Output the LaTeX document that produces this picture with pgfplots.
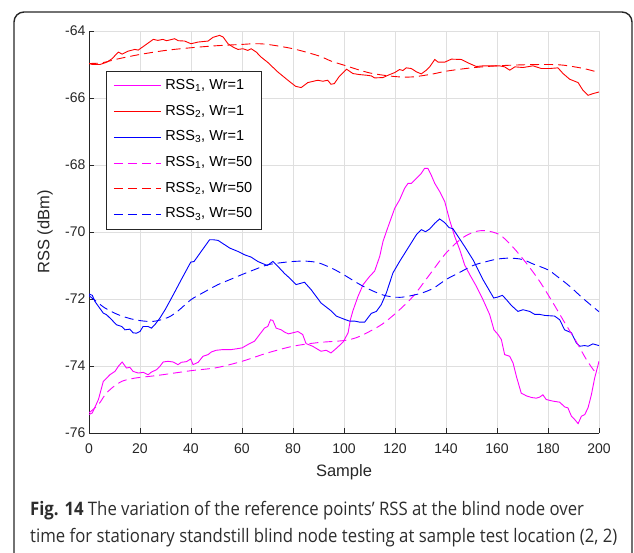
\documentclass[border=0pt]{standalone}
\usepackage{fontspec}
\setmainfont{Liberation Sans}
\newfontfamily\capfont[FakeStretch=0.9]{Open Sans}
\usepackage{pgfplots}
\definecolor{axgray}{RGB}{38,38,38}
\definecolor{gridgray}{RGB}{223,223,223}
\definecolor{capgray}{RGB}{45,45,45}
\definecolor{cMag}{RGB}{255,0,255}
\definecolor{cRed}{RGB}{255,0,0}
\definecolor{cBlue}{RGB}{0,0,255}
\pgfplotsset{compat=1.18,
  /pgfplots/legend image code/.code={%
    \draw[#1, draw=.] (0pt,0pt) -- (47pt,0pt);}}
\begin{document}
\begin{tikzpicture}[x=1pt,y=1pt]
\useasboundingbox (0,0) rectangle (634,552);
\draw[line width=1.4pt, rounded corners=10pt, black!85] (14,-30) rectangle (632,540);
\begin{axis}[
  at={(89pt,119pt)}, anchor=south west,
  scale only axis, width=510pt, height=402pt,
  xmin=0, xmax=200, ymin=-76, ymax=-64,
  xtick={0,20,...,200}, ytick={-76,-74,...,-64},
  grid=major, major grid style={gridgray, line width=0.7pt},
  axis x line*=bottom, axis y line*=left,
  axis line style={-, axgray, line width=0.8pt},
  tick align=inside, major tick length=5pt, tick style={axgray, line width=0.8pt},
  ticklabel style={font=\fontsize{14}{16}\selectfont, text=axgray},
  xticklabel style={yshift=-7pt},
  /pgf/number format/assume math mode=true,
  xlabel={Sample}, ylabel={RSS (dBm)},
  label style={font=\fontsize{16.5}{19}\selectfont, text=axgray},
  xlabel style={at={(axis description cs:0.5,-0.097)}, anchor=center},
  ylabel style={at={(axis description cs:-0.0863,0.5)}, anchor=center},
  legend cell align=left,
  legend style={at={(rel axis cs:0.0333,0.9005)}, anchor=north west,
    draw=axgray, line width=0.8pt, fill=white,
    font=\fontsize{14.5}{16}\selectfont, text=black,
    inner xsep=7pt, inner ysep=5pt, row sep=6.7pt,
    /tikz/every odd column/.append style={column sep=2pt},
    nodes={inner sep=2pt, text height=11pt, text depth=4pt}},
  every axis plot/.append style={line width=0.9pt},
]
% RSS1, Wr=1
\addplot[color=cMag] coordinates {(0,-75.45)(1.3,-75.4)(3.7,-75.0)(4.9,-74.66)(5.6,-74.46)(6.9,-74.36)(8.2,-74.26)(10.2,-74.16)(11.5,-74.01)(13,-73.88)(14.7,-74.06)(16,-74.04)(17.3,-74.16)(19.3,-74.21)(21.3,-74.19)(23.2,-74.26)(24.5,-74.18)(26.5,-74.11)(27.8,-74.01)(29.1,-73.88)(31,-73.86)(33,-73.88)(34.9,-73.96)(36.2,-73.89)(38.2,-73.87)(39.9,-73.79)(40.8,-73.96)(42.8,-73.89)(44.7,-73.71)(46.7,-73.66)(48,-73.58)(49.9,-73.53)(52.5,-73.51)(55.8,-73.51)(58.4,-73.48)(60,-73.46)(62.3,-73.36)(64.9,-73.26)(66.9,-73.06)(68.8,-72.87)(70.1,-72.82)(71.2,-72.62)(72.1,-72.64)(73.4,-72.87)(75.4,-72.92)(76.7,-72.99)(78.2,-73.04)(79.9,-73.01)(81.9,-72.97)(83.8,-73.06)(85.1,-73.33)(87.7,-73.41)(91,-73.56)(93,-73.53)(94.9,-73.61)(97.2,-73.46)(99.7,-73.28)(101.6,-73.01)(102.5,-72.62)(103.5,-72.35)(105.5,-71.92)(107.5,-71.57)(110.1,-71.32)(112,-71.17)(114,-70.73)(115.3,-70.28)(117.3,-69.84)(119.9,-69.29)(121.8,-69.04)(123.8,-68.69)(125.1,-68.55)(126.4,-68.55)(128.4,-68.4)(130.3,-68.25)(131.6,-68.1)(132.9,-68.1)(134.2,-68.3)(135.6,-68.55)(137.5,-68.79)(139.5,-69.09)(141.4,-69.64)(143.4,-70.13)(145.4,-70.53)(147.3,-70.98)(149.3,-71.27)(151.9,-71.62)(154.5,-72.02)(157.1,-72.46)(158.8,-72.92)(160.4,-73.06)(161.7,-73.21)(163,-73.66)(165,-73.71)(166.3,-73.91)(167.6,-74.31)(169.5,-74.81)(171.5,-74.89)(173.5,-74.94)(175.4,-74.96)(176.7,-74.93)(178,-74.86)(179.3,-75.0)(182,-75.05)(184.6,-75.08)(186.5,-75.22)(187.8,-75.25)(189.2,-75.5)(190.5,-75.6)(191.8,-75.72)(193.1,-75.5)(194.4,-75.45)(195.7,-75.25)(197,-74.86)(198.3,-74.36)(200,-73.86)};
\addlegendentry{RSS\textsubscript{1}, Wr=1}
% RSS2, Wr=1
\addplot[color=cRed] coordinates {(0,-64.97)(1.3,-65.0)(4.3,-65.0)(7,-64.93)(9,-64.83)(11.5,-64.63)(13,-64.69)(15.4,-64.6)(18,-64.55)(19.3,-64.57)(21.9,-64.43)(25.2,-64.25)(27,-64.28)(29,-64.25)(30.4,-64.29)(33.6,-64.23)(35,-64.29)(37.5,-64.3)(40,-64.38)(42.8,-64.33)(46.7,-64.3)(48.6,-64.19)(51.2,-64.13)(52.6,-64.18)(54.5,-64.38)(56.5,-64.48)(58.4,-64.55)(60.4,-64.53)(62.3,-64.58)(63.6,-64.53)(65.6,-64.63)(67.5,-64.78)(70,-64.93)(74,-65.22)(78,-65.47)(81,-65.65)(83.2,-65.69)(85.8,-65.54)(89.7,-65.47)(91.7,-65.5)(93.6,-65.47)(94.9,-65.59)(96.2,-65.57)(98.2,-65.35)(101,-65.14)(103.5,-65.27)(106,-65.3)(108.8,-65.32)(110.7,-65.34)(112,-65.4)(115.3,-65.39)(117.3,-65.32)(119.9,-65.24)(121.8,-65.15)(123.1,-65.18)(124.4,-65.1)(126.4,-65.12)(128.4,-65.22)(130.3,-65.28)(132.3,-65.17)(133.6,-65.07)(135.6,-64.85)(136.9,-64.93)(139.5,-64.93)(142.1,-64.84)(146,-64.85)(148.6,-64.95)(151.9,-65.06)(154.5,-65.04)(157.1,-65.04)(161,-65.04)(163,-65.07)(165,-65.17)(167,-65.07)(170.2,-65.09)(174.1,-65.04)(177.4,-65.12)(180.7,-65.12)(183.9,-65.1)(185.9,-65.27)(188.5,-65.44)(191.8,-65.54)(193.7,-65.77)(195.7,-65.92)(197.6,-65.87)(200,-65.82)};
\addlegendentry{RSS\textsubscript{2}, Wr=1}
% RSS3, Wr=1
\addplot[color=cBlue] coordinates {(0,-71.85)(1.3,-71.89)(2.3,-72.07)(3.7,-72.22)(5.6,-72.42)(6.9,-72.47)(8.9,-72.62)(10.8,-72.77)(12.8,-72.82)(14.1,-72.92)(16,-72.9)(17.3,-73.01)(18.6,-73.02)(20,-72.97)(21.2,-72.82)(23.2,-72.82)(24.5,-72.87)(25.8,-72.77)(27.8,-72.57)(30,-72.3)(33,-71.88)(36.2,-71.42)(39.9,-70.9)(41.2,-70.88)(44,-70.58)(47.3,-70.23)(48.6,-70.23)(50.6,-70.25)(53.2,-70.38)(55.2,-70.48)(58.4,-70.58)(61,-70.68)(63.6,-70.75)(66.2,-70.88)(69.9,-71.0)(72.1,-70.88)(74,-71.02)(76.7,-71.24)(78.6,-71.37)(81.2,-71.57)(84.5,-71.5)(87.1,-71.72)(91,-72.12)(94.9,-72.35)(97,-72.51)(100.3,-72.61)(102.2,-72.66)(104.2,-72.66)(106.1,-72.69)(108.1,-72.69)(110.7,-72.43)(112.7,-72.37)(114.6,-72.17)(116.6,-71.82)(119.2,-71.22)(121.8,-70.88)(125.1,-70.48)(128.4,-70.08)(130.3,-69.93)(132,-69.99)(133.6,-69.91)(135.6,-69.74)(137.5,-69.61)(139.5,-69.72)(141.2,-69.87)(142.7,-69.9)(144.7,-70.13)(147.3,-70.43)(150.6,-70.83)(154.5,-71.42)(158.7,-71.97)(160.4,-71.94)(162.1,-71.89)(163.7,-72.02)(165.6,-72.19)(168.2,-72.37)(170.2,-72.32)(172.8,-72.37)(174.8,-72.46)(176.7,-72.46)(178.7,-72.49)(182.6,-72.51)(184.6,-72.62)(186.5,-72.92)(189.2,-73.01)(191.1,-73.31)(192.4,-73.41)(194.4,-73.39)(195.7,-73.41)(197.6,-73.34)(200,-73.39)};
\addlegendentry{RSS\textsubscript{3}, Wr=1}
% RSS1, Wr=50
\addplot[color=cMag, dash pattern=on 9pt off 5pt, smooth, tension=0.5] coordinates {(0,-75.4)(3.7,-75.15)(6.3,-74.86)(8.9,-74.66)(12.8,-74.46)(16.7,-74.38)(20,-74.34)(27,-74.28)(40,-74.14)(50,-74.05)(60,-73.86)(70,-73.61)(80,-73.41)(90,-73.3)(100,-73.24)(105,-73.15)(110,-72.97)(115,-72.75)(120.5,-72.41)(127.1,-71.92)(133.6,-71.27)(140,-70.63)(146,-70.2)(151,-70.0)(155.5,-69.96)(161,-70.08)(166,-70.43)(171.5,-70.93)(176.7,-71.47)(182,-72.12)(186.5,-72.7)(191,-73.26)(195,-73.8)(198.3,-74.16)(200,-74.21)};
\addlegendentry{RSS\textsubscript{1}, Wr=50}
% RSS2, Wr=50
\addplot[color=cRed, dash pattern=on 9pt off 5pt, smooth, tension=0.5] coordinates {(0,-64.97)(5,-64.95)(11.5,-64.83)(20,-64.7)(30,-64.58)(40,-64.5)(50,-64.44)(60,-64.4)(65,-64.38)(70,-64.4)(80,-64.53)(90,-64.74)(95,-64.9)(100,-65.02)(110,-65.25)(120,-65.36)(127,-65.37)(135,-65.28)(140,-65.2)(150,-65.1)(160,-65.04)(170,-65.01)(180,-65.0)(186,-65.02)(194,-65.12)(200,-65.24)};
\addlegendentry{RSS\textsubscript{2}, Wr=50}
% RSS3, Wr=50
\addplot[color=cBlue, dash pattern=on 9pt off 5pt, smooth, tension=0.5] coordinates {(0,-71.9)(3,-72.08)(6.3,-72.27)(11.5,-72.47)(18,-72.62)(25,-72.67)(31,-72.55)(35,-72.35)(40,-72.02)(45,-71.8)(50.6,-71.57)(55,-71.43)(60,-71.27)(65,-71.12)(70,-70.98)(75,-70.92)(80,-70.88)(85,-70.87)(90,-70.92)(95.7,-71.1)(100,-71.28)(107.5,-71.62)(115.3,-71.88)(122,-71.95)(129.7,-71.84)(135,-71.68)(140,-71.42)(145,-71.22)(150.6,-71.0)(155,-70.9)(160,-70.81)(165,-70.78)(170,-70.82)(174,-70.95)(180,-71.13)(184,-71.35)(188.5,-71.62)(194,-72.0)(200,-72.38)};
\addlegendentry{RSS\textsubscript{3}, Wr=50}
\end{axis}
\node[anchor=base west, inner sep=0pt, font=\capfont\fontsize{18.6}{22}\selectfont, text=capgray] at (30,37) {\textbf{Fig. 14} The variation of the reference points’ RSS at the blind node over};
\node[anchor=base west, inner sep=0pt, font=\capfont\fontsize{18.6}{22}\selectfont, text=capgray] at (30,10) {time for stationary standstill blind node testing at sample test location (2, 2)};
\end{tikzpicture}
\end{document}
